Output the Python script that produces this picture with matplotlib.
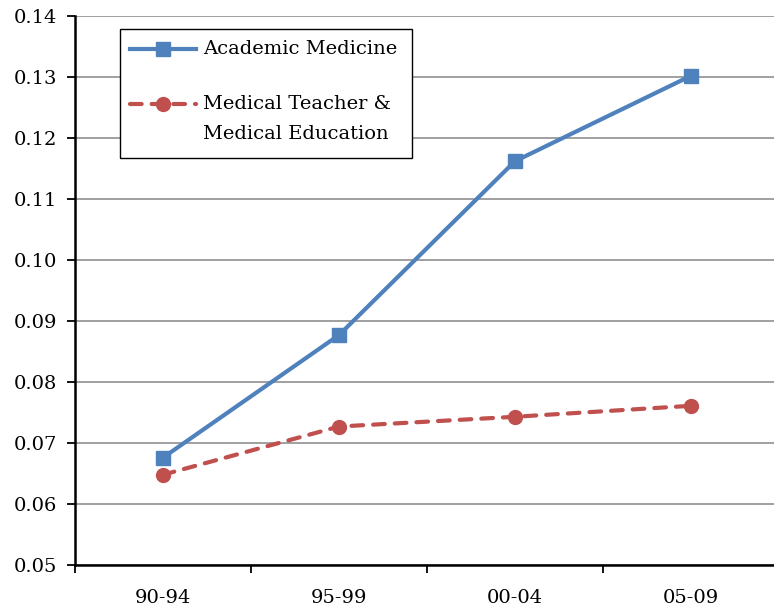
import matplotlib
matplotlib.use("Agg")
import matplotlib.pyplot as plt
from matplotlib.lines import Line2D
from matplotlib.patches import Rectangle

categories = ["90-94", "95-99", "00-04", "05-09"]
academic_medicine = [0.0676, 0.0877, 0.1162, 0.1302]
med_teacher_educ = [0.0648, 0.0727, 0.0743, 0.0761]
yticks = [0.05, 0.06, 0.07, 0.08, 0.09, 0.10, 0.11, 0.12, 0.13, 0.14]
series_labels = ["Academic Medicine", "Medical Teacher &\nMedical Education"]

W, H = 774, 608
plt.rcParams['font.family'] = ['DejaVu Serif']
fig = plt.figure(figsize=(W/100, H/100), dpi=100)
ax = fig.add_axes([75/W, (H-565)/H, (779-75)/W, (565-16)/H])

blue, red = '#4F81BD', '#C0504D'
am_style = dict(color=blue, lw=3, marker='s', markersize=9.5)
mt_style = dict(color=red, lw=3, ls=(0, (2.8, 2.4)), dash_capstyle='round',
                marker='o', markersize=10)

x = list(range(len(categories)))
ax.plot(x, academic_medicine, zorder=3, clip_on=False, **am_style)
ax.plot(x, med_teacher_educ, zorder=3, clip_on=False, **mt_style)

ax.set_xlim(-0.5, 3.5)
ax.set_ylim(0.05, 0.14)
ax.set_yticks(yticks)
ax.set_yticklabels([f"{v:.2f}" for v in yticks], fontsize=14)
ax.yaxis.grid(True, color='#999999', lw=1.3)
ax.set_axisbelow(True)

ax.set_xticks([-0.5, 0.5, 1.5, 2.5, 3.5])
ax.set_xticklabels([])
ax.set_xticks(x, minor=True)
ax.set_xticklabels(categories, minor=True, fontsize=14)
ax.tick_params(axis='x', which='minor', length=0, pad=17)
ax.tick_params(axis='x', which='major', length=6, width=1.3, direction='out')
ax.tick_params(axis='y', length=6, width=1.3, direction='out', pad=7)

for s in ['top', 'right']:
    ax.spines[s].set_visible(False)
for s in ['left', 'bottom']:
    ax.spines[s].set_linewidth(1.8)
    ax.spines[s].set_color('black')

# manual legend (pixel positions measured from top-left)
def fx(px): return px / W
def fy(py): return 1 - py / H

fig.add_artist(Rectangle((fx(120), fy(158)), fx(412) - fx(120), fy(29) - fy(158),
                         transform=fig.transFigure, facecolor='white',
                         edgecolor='black', lw=1.0, zorder=5))
for style, yy in [(am_style, 49), (mt_style, 104)]:
    fig.add_artist(Line2D([fx(130), fx(196)], [fy(yy), fy(yy)], transform=fig.transFigure,
                          zorder=6, markevery=[], **style))
    fig.add_artist(Line2D([fx(163)], [fy(yy)], transform=fig.transFigure, zorder=7,
                          color=style['color'], marker=style['marker'],
                          markersize=style['markersize'], ls='none'))
fig.text(fx(203), fy(49), series_labels[0], fontsize=14, va='center', ha='left', zorder=7)
lines = series_labels[1].split("\n")
fig.text(fx(203), fy(104), lines[0], fontsize=14, va='center', ha='left', zorder=7)
fig.text(fx(203), fy(134), lines[1], fontsize=14, va='center', ha='left', zorder=7)

fig.savefig("out.png", dpi=100)
